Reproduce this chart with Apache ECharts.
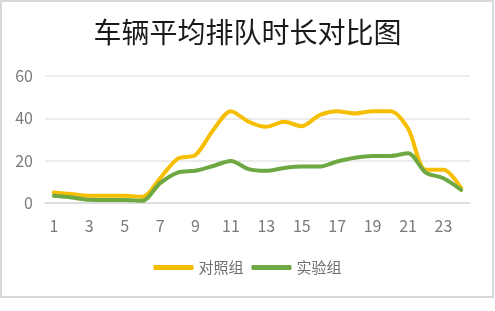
<!DOCTYPE html>
<html><head><meta charset="utf-8">
<script src="https://cdn.jsdelivr.net/npm/echarts@6/dist/echarts.min.js"></script>
<style>html,body{margin:0;padding:0;background:#fff}#c{width:495px;height:311px}</style>
</head><body><div id="c"></div>
<script>
const categories = ['1','2','3','4','5','6','7','8','9','10','11','12','13','14','15','16','17','18','19','20','21','22','23','24'];
const controlGroup = [5.0, 4.2, 3.4, 3.4, 3.4, 2.9, 11.7, 21.0, 22.7, 34.5, 43.4, 38.4, 36.0, 38.4, 36.3, 41.5, 43.4, 42.3, 43.4, 43.4, 35.2, 15.7, 15.7, 7.0];
const experimentGroup = [3.4, 2.6, 1.5, 1.4, 1.4, 1.1, 9.4, 14.4, 15.2, 17.5, 19.9, 16.0, 15.2, 16.5, 17.2, 17.2, 19.6, 21.4, 22.2, 22.2, 23.5, 14.4, 11.7, 6.2];
const yTicks = [0, 20, 40, 60];
const seriesNames = ['对照组', '实验组'];

const chart = echarts.init(document.getElementById('c'), null, {renderer: 'canvas'});
const font = '"Noto Sans CJK SC", "Noto Sans", sans-serif';
chart.setOption({
  animation: false,
  backgroundColor: '#fff',
  title: {
    text: '车辆平均排队时长对比图', left: 'center', top: 13,
    textStyle: {fontFamily: font, fontSize: 28, fontWeight: 'normal', color: '#1a1a1a'}
  },
  graphic: [{type: 'rect', shape: {x: 1, y: 1, width: 492, height: 296},
    style: {fill: 'none', stroke: '#d9d9d9', lineWidth: 2}, silent: true}],
  grid: {left: 45, right: 25, top: 76, bottom: 108, containLabel: false},
  legend: {
    data: seriesNames, bottom: 31, left: 'center', itemGap: 8,
    itemWidth: 40, itemHeight: 5, icon: 'roundRect',
    textStyle: {fontFamily: font, fontSize: 15, color: '#6e6e6e'}
  },
  xAxis: {
    type: 'category', data: categories, boundaryGap: true,
    axisLine: {show: true, lineStyle: {color: '#d9d9d9', width: 1.5}},
    axisTick: {show: false},
    axisLabel: {interval: 1, margin: 15, fontFamily: font, fontSize: 16, color: '#7a7a7a'}
  },
  yAxis: {
    type: 'value', min: yTicks[0], max: yTicks[yTicks.length - 1], interval: 20,
    axisLine: {show: false}, axisTick: {show: false},
    splitLine: {lineStyle: {color: '#e6e6e6', width: 1.5}},
    axisLabel: {margin: 12, fontFamily: font, fontSize: 16, color: '#7a7a7a'}
  },
  series: [
    {name: seriesNames[0], type: 'line', data: controlGroup, smooth: 0.3, showSymbol: false,
     lineStyle: {color: '#F5BE00', width: 4, cap: 'round'}, itemStyle: {color: '#F5BE00'}},
    {name: seriesNames[1], type: 'line', data: experimentGroup, smooth: 0.3, showSymbol: false,
     lineStyle: {color: '#6DA843', width: 4, cap: 'round'}, itemStyle: {color: '#6DA843'}}
  ]
});
</script></body></html>
